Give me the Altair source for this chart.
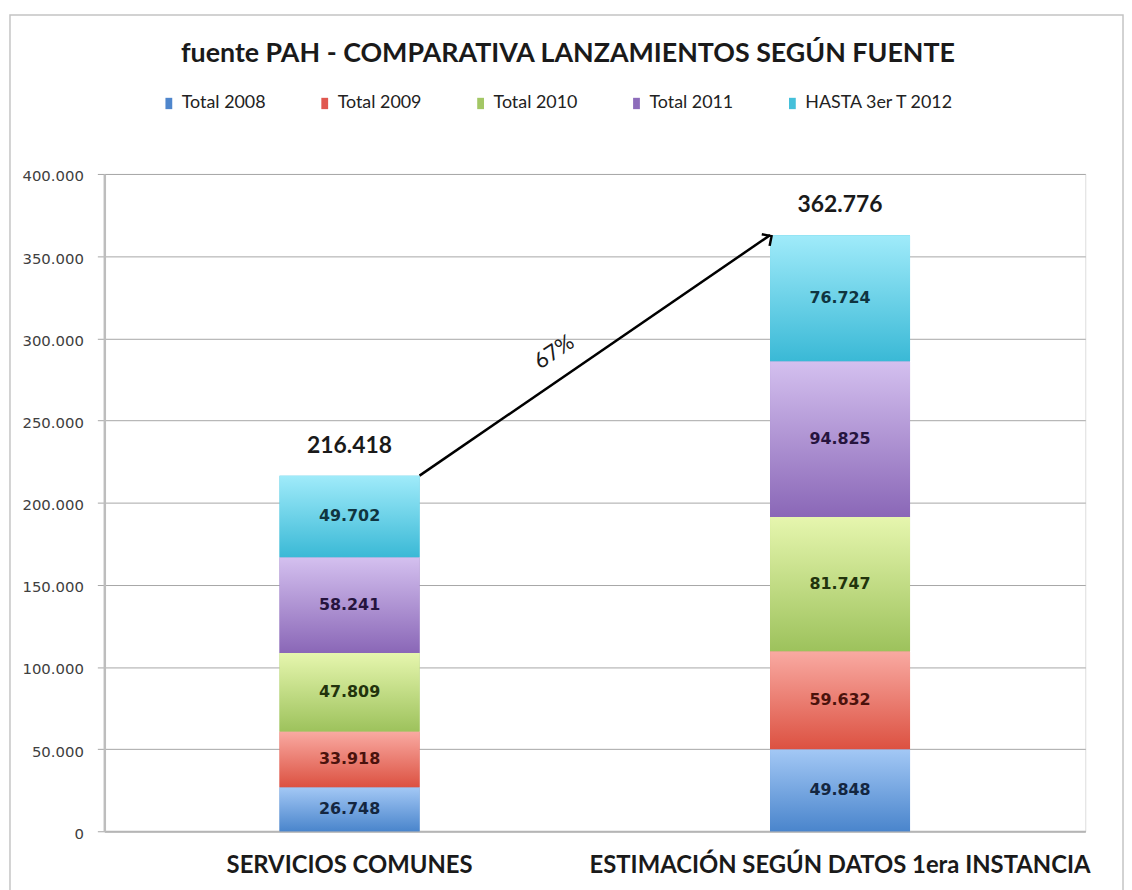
import altair as alt
import pandas as pd

# ---------------- data ----------------
categories = ["SERVICIOS COMUNES", "ESTIMACIÓN SEGÚN DATOS 1era INSTANCIA"]
series = ["Total 2008", "Total 2009", "Total 2010", "Total 2011", "HASTA 3er T 2012"]
values_servicios = [26748, 33918, 47809, 58241, 49702]
values_estimacion = [49848, 59632, 81747, 94825, 76724]
growth_label = ["67%"]
y_ticks = [0, 50000, 100000, 150000, 200000, 250000, 300000, 350000, 400000]
title_text = "fuente PAH - COMPARATIVA LANZAMIENTOS SEGÚN FUENTE"

# ---------------- styles ----------------
solid_colors = ["#4f86cc", "#e0574f", "#a3c765", "#8d6cbb", "#45c0da"]
grad_top = ["#a3c8f5", "#f9aaa2", "#e6f6ae", "#d4c0ef", "#a0ebfa"]
grad_bottom = ["#4a85cc", "#dc5141", "#9dc25c", "#8a67b7", "#3ab9d6"]
text_dark = ["#142640", "#4a120c", "#22330c", "#26143e", "#0f3440"]

rows = []
for cat, vals in zip(categories, [values_servicios, values_estimacion]):
    for i, (s, v) in enumerate(zip(series, vals)):
        rows.append({"cat": cat, "serie": s, "orden": i, "valor": v,
                     "tcol": text_dark[i]})
df = pd.DataFrame(rows)

arrow_df = pd.DataFrame([{
    "desde": categories[0],
    "hasta": categories[1],
    "y_desde": sum(values_servicios),
    "y_hasta": sum(values_estimacion),
    "txt": growth_label[0],
}])

BAR = 141
x_scale = alt.Scale(domain=categories, paddingInner=0, paddingOuter=0)
x_enc = alt.X("cat:N", scale=x_scale, title=None,
              axis=alt.Axis(labelAngle=0, labelFont="Lato", labelFontWeight="bold",
                            labelFontSize=24, labelColor="#1a1a1a", labelPadding=23,
                            ticks=False, domainColor="#b5b5b5", domainWidth=2,
                            labelLimit=600))
y_scale = alt.Scale(domain=[0, 400000], nice=False)
y_axis = alt.Axis(values=y_ticks, labelExpr="replace(format(datum.value, ','), ',', '.')",
                  labelFont="DejaVu Sans", labelFontSize=15, labelColor="#404040",
                  labelPadding=14, tickSize=7, tickColor="#a6a6a6",
                  gridColor="#a6a6a6", gridWidth=1, domainColor="#bdbdbd", domainWidth=2.5,
                  labelOffset=2)

# outer chart frame (decoration)
frame = alt.Chart(arrow_df).mark_rect(fill=None, stroke="#c4c4c4", strokeWidth=1.5).encode(
    x=alt.value(-95), x2=alt.value(1026), y=alt.value(-160), y2=alt.value(722)
)

stacked = alt.Chart(df).transform_stack(
    stack="valor", groupby=["cat"], as_=["y0", "y1"],
    sort=[alt.SortField("orden", order="ascending")]
)

# legend-carrying solid base bars
base_bars = stacked.mark_bar(size=BAR).encode(
    x=x_enc,
    y=alt.Y("y0:Q", scale=y_scale, axis=y_axis, title=None),
    y2="y1:Q",
    color=alt.Color("serie:N", sort=series,
                    scale=alt.Scale(domain=series, range=solid_colors),
                    legend=alt.Legend(orient="none", legendX=56, legendY=-80,
                                      direction="horizontal", columns=5, title=None,
                                      symbolType="M -0.6 -1 L 0.6 -1 L 0.6 1 L -0.6 1 Z",
                                      symbolSize=130, symbolStrokeWidth=0,
                                      labelFont="Lato", labelFontSize=18,
                                      labelColor="#222222", labelOffset=4,
                                      columnPadding=50)),
)

grad_layers = []
for i in range(len(series)):
    g = alt.Gradient(gradient="linear", x1=0, x2=0, y1=0, y2=1,
                     stops=[alt.GradientStop(color=grad_top[i], offset=0),
                            alt.GradientStop(color=grad_bottom[i], offset=1)])
    grad_layers.append(
        stacked.transform_filter(alt.datum.orden == i)
        .mark_bar(size=BAR, color=g)
        .encode(x=alt.X("cat:N", scale=x_scale), y="y0:Q", y2="y1:Q")
    )

seg_labels = stacked.transform_calculate(
    ymid="(datum.y0 + datum.y1) / 2",
    lbl="replace(format(datum.valor, ','), ',', '.')",
).mark_text(font="DejaVu Sans", fontWeight="bold", fontSize=16, baseline="middle").encode(
    x=alt.X("cat:N", scale=x_scale),
    y="ymid:Q",
    text="lbl:N",
    fill=alt.Fill("tcol:N", scale=None),
)

totals = alt.Chart(df).transform_aggregate(
    total="sum(valor)", groupby=["cat"]
).transform_calculate(
    lbl="replace(format(datum.total, ','), ',', '.')"
).mark_text(font="Lato", fontWeight="bold", fontSize=23, baseline="middle", dy=-30,
            color="#1a1a1a").encode(
    x=alt.X("cat:N", scale=x_scale),
    y="total:Q",
    text="lbl:N",
)

arrow_line = alt.Chart(arrow_df).mark_rule(color="#000000", strokeWidth=2.5,
                                           xOffset=70.5, x2Offset=-70.5).encode(
    x=alt.X("desde:N", scale=x_scale),
    x2="hasta:N",
    y="y_desde:Q",
    y2="y_hasta:Q",
)

arrow_head = alt.Chart(arrow_df).mark_point(
    shape="M -1 1 L 0 0 L 1 1", filled=False, stroke="#000000", strokeWidth=2.5,
    size=200, angle=56, xOffset=-69, yOffset=1, opacity=1
).encode(
    x=alt.X("hasta:N", scale=x_scale),
    y="y_hasta:Q",
)

arrow_text = alt.Chart(arrow_df).mark_text(
    font="Lato", fontSize=22, angle=326, color="#1a1a1a", baseline="middle",
    xOffset=206, yOffset=-124.6
).encode(
    x=alt.X("desde:N", scale=x_scale),
    y="y_desde:Q",
    text="txt:N",
)

chart = alt.layer(
    frame, base_bars, *grad_layers, seg_labels, totals, arrow_line, arrow_head, arrow_text
).properties(
    width=988,
    height=662,
    padding={"left": 97, "top": 164, "right": 39, "bottom": 56},
    autosize=alt.AutoSizeParams(type="none"),
    title=alt.TitleParams(title_text, font="Lato", fontSize=27, fontWeight="bold",
                          color="#1a1a1a", anchor="middle", dx=-27, offset=-54),
).configure_view(stroke=None).configure(background="white")

chart.save("out.html", embed_options={"renderer": "svg", "actions": False})
